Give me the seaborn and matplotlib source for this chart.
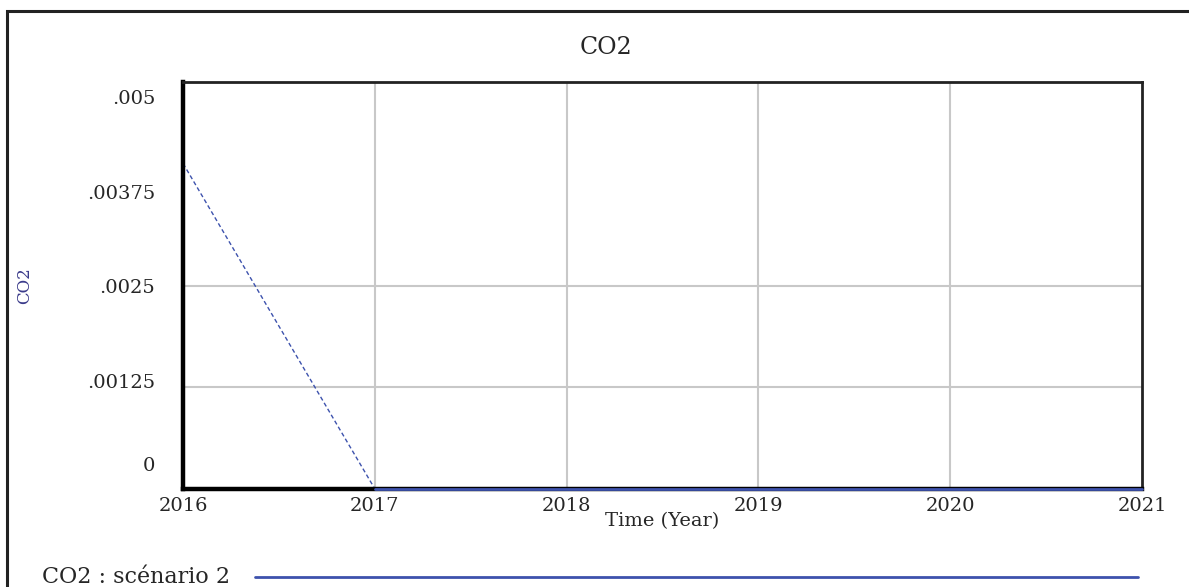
import numpy as np
import pandas as pd
import matplotlib
matplotlib.use("Agg")
import matplotlib.pyplot as plt
import matplotlib.transforms as mtransforms
import seaborn as sns
from matplotlib.lines import Line2D
from matplotlib.patches import Rectangle

# CO2 for "scénario 2" - drops to zero after the first year
years = [2016, 2017, 2018, 2019, 2020, 2021]
co2 = [0.004, 0.0, 0.0, 0.0, 0.0, 0.0]
y_ticks = [0, 0.00125, 0.0025, 0.00375, 0.005]
y_tick_labels = ["0", ".00125", ".0025", ".00375", ".005"]
series_name = "CO2 : scénario 2"

df = pd.DataFrame({"Time": years, "CO2": co2})
line_color = "#3d52ad"

sns.set_style("white")
plt.rcParams["font.family"] = ["DejaVu Serif", "Liberation Serif"]

fig = plt.figure(figsize=(11.89, 5.87), dpi=100)
ax = fig.add_axes([0.154, 0.167, 0.8065, 0.693])

# first year drawn dashed (as it renders in the source), rest solid
sns.lineplot(data=df.iloc[:2], x="Time", y="CO2", ax=ax, color=line_color,
             lw=1.0, linestyle=(0, (3, 2)))
sns.lineplot(data=df.iloc[1:], x="Time", y="CO2", ax=ax, color=line_color,
             lw=2.0, clip_on=False, zorder=5)

ax.set_xlim(years[0], years[-1])
ax.set_ylim(0, 0.005)
ax.set_xticks(years)
ax.set_xticklabels([str(y) for y in years], fontsize=14)
ax.set_yticks(y_ticks)
ax.set_yticklabels(y_tick_labels, fontsize=14)
ax.tick_params(axis="x", length=0, pad=6)
ax.tick_params(axis="y", length=0, pad=20)

# the source nudges the y labels towards the middle of the axis
for lab, dy in zip(ax.get_yticklabels(), [25, 6, 0, -8, -15]):
    lab.set_transform(lab.get_transform() +
                      mtransforms.ScaledTranslation(0, dy / 100, fig.dpi_scale_trans))

# grid only where the original shows it
for x in years[1:-1]:
    ax.axvline(x, color="#c8c8c8", lw=1.5, zorder=0)
for y in (0.00125, 0.0025):
    ax.axhline(y, color="#c8c8c8", lw=1.5, zorder=0)

for side in ["left", "bottom"]:
    ax.spines[side].set_linewidth(3.2)
    ax.spines[side].set_color("black")
for side in ["top", "right"]:
    ax.spines[side].set_linewidth(2.0)
    ax.spines[side].set_color("#222222")

fig.text(606 / 1189, 1 - 48 / 587, "CO2", fontsize=17, ha="center", va="center")
ax.set_xlabel("Time (Year)", fontsize=14, labelpad=-2)
ax.set_ylabel("CO2", fontsize=12, color="#3a3a8a", va="center")
ax.yaxis.set_label_coords(-(183 - 25) / 959, 0.50)

# outer frame of the exported picture
fig.patches.append(Rectangle((7 / 1189, -0.1), 1.2, 1.1 - 11 / 587,
                             transform=fig.transFigure, fill=False,
                             edgecolor="#222222", lw=2.2))

# legend row below the axes
fig.text(42 / 1189, 1 - 577 / 587, series_name, fontsize=16, va="center")
fig.lines.append(Line2D([255 / 1189, 1138 / 1189], [1 - 577 / 587] * 2,
                        transform=fig.transFigure, color=line_color, lw=2.0))

fig.savefig("out.png", dpi=100)
